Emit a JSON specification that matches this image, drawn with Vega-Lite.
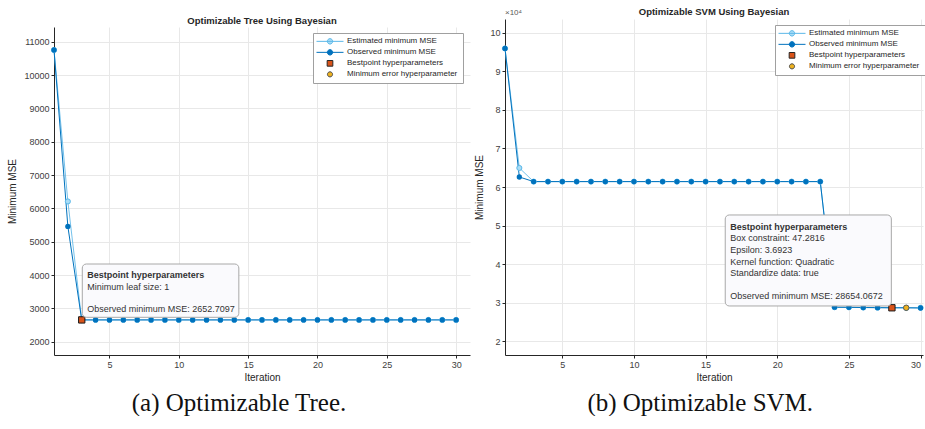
{
  "$schema": "https://vega.github.io/schema/vega-lite/v6.json",
  "padding": {"left": 7, "right": 0, "top": 4, "bottom": 0},
  "background": "white",
  "spacing": 4,
  "resolve": {"scale": {"fill": "independent", "stroke": "independent", "shape": "independent"}, "legend": {"fill": "independent", "stroke": "independent", "shape": "independent"}},
  "config": {
    "view": {"stroke": null},
    "font": "Liberation Sans",
    "axis": {
      "labelFont": "Liberation Sans", "labelFontSize": 9, "labelColor": "#404040",
      "titleFont": "Liberation Sans", "titleFontSize": 10, "titleFontWeight": "normal", "titleColor": "#262626",
      "domainColor": "#262626", "domainWidth": 1, "gridColor": "#e8e8e8", "tickColor": "#262626", "tickSize": 3, "labelPadding": 2
    },
    "title": {"font": "Liberation Sans", "fontSize": 9.5, "fontWeight": "bold", "color": "#262626", "offset": 4},
    "legend": {
      "title": null, "orient": "none", "symbolSize": 729, "symbolStrokeWidth": 1, "clipHeight": 10.7, "rowPadding": 0,
      "padding": 3, "labelOffset": 3, "labelFont": "Liberation Sans", "labelFontSize": 8, "labelColor": "#262626",
      "strokeColor": "#a0a0a0", "fillColor": "#ffffff", "symbolOpacity": 1
    }
  },
  "datasets": {
    "tree": [
      {"iter": 1, "mse": 10750, "series": "Estimated minimum MSE"},
      {"iter": 2, "mse": 6207, "series": "Estimated minimum MSE"},
      {"iter": 3, "mse": 2652.7097, "series": "Estimated minimum MSE"},
      {"iter": 4, "mse": 2652.7097, "series": "Estimated minimum MSE"},
      {"iter": 5, "mse": 2652.7097, "series": "Estimated minimum MSE"},
      {"iter": 6, "mse": 2652.7097, "series": "Estimated minimum MSE"},
      {"iter": 7, "mse": 2652.7097, "series": "Estimated minimum MSE"},
      {"iter": 8, "mse": 2652.7097, "series": "Estimated minimum MSE"},
      {"iter": 9, "mse": 2652.7097, "series": "Estimated minimum MSE"},
      {"iter": 10, "mse": 2652.7097, "series": "Estimated minimum MSE"},
      {"iter": 11, "mse": 2652.7097, "series": "Estimated minimum MSE"},
      {"iter": 12, "mse": 2652.7097, "series": "Estimated minimum MSE"},
      {"iter": 13, "mse": 2652.7097, "series": "Estimated minimum MSE"},
      {"iter": 14, "mse": 2652.7097, "series": "Estimated minimum MSE"},
      {"iter": 15, "mse": 2652.7097, "series": "Estimated minimum MSE"},
      {"iter": 16, "mse": 2652.7097, "series": "Estimated minimum MSE"},
      {"iter": 17, "mse": 2652.7097, "series": "Estimated minimum MSE"},
      {"iter": 18, "mse": 2652.7097, "series": "Estimated minimum MSE"},
      {"iter": 19, "mse": 2652.7097, "series": "Estimated minimum MSE"},
      {"iter": 20, "mse": 2652.7097, "series": "Estimated minimum MSE"},
      {"iter": 21, "mse": 2652.7097, "series": "Estimated minimum MSE"},
      {"iter": 22, "mse": 2652.7097, "series": "Estimated minimum MSE"},
      {"iter": 23, "mse": 2652.7097, "series": "Estimated minimum MSE"},
      {"iter": 24, "mse": 2652.7097, "series": "Estimated minimum MSE"},
      {"iter": 25, "mse": 2652.7097, "series": "Estimated minimum MSE"},
      {"iter": 26, "mse": 2652.7097, "series": "Estimated minimum MSE"},
      {"iter": 27, "mse": 2652.7097, "series": "Estimated minimum MSE"},
      {"iter": 28, "mse": 2652.7097, "series": "Estimated minimum MSE"},
      {"iter": 29, "mse": 2652.7097, "series": "Estimated minimum MSE"},
      {"iter": 30, "mse": 2652.7097, "series": "Estimated minimum MSE"},
      {"iter": 1, "mse": 10750, "series": "Observed minimum MSE"},
      {"iter": 2, "mse": 5456, "series": "Observed minimum MSE"},
      {"iter": 3, "mse": 2652.7097, "series": "Observed minimum MSE"},
      {"iter": 4, "mse": 2652.7097, "series": "Observed minimum MSE"},
      {"iter": 5, "mse": 2652.7097, "series": "Observed minimum MSE"},
      {"iter": 6, "mse": 2652.7097, "series": "Observed minimum MSE"},
      {"iter": 7, "mse": 2652.7097, "series": "Observed minimum MSE"},
      {"iter": 8, "mse": 2652.7097, "series": "Observed minimum MSE"},
      {"iter": 9, "mse": 2652.7097, "series": "Observed minimum MSE"},
      {"iter": 10, "mse": 2652.7097, "series": "Observed minimum MSE"},
      {"iter": 11, "mse": 2652.7097, "series": "Observed minimum MSE"},
      {"iter": 12, "mse": 2652.7097, "series": "Observed minimum MSE"},
      {"iter": 13, "mse": 2652.7097, "series": "Observed minimum MSE"},
      {"iter": 14, "mse": 2652.7097, "series": "Observed minimum MSE"},
      {"iter": 15, "mse": 2652.7097, "series": "Observed minimum MSE"},
      {"iter": 16, "mse": 2652.7097, "series": "Observed minimum MSE"},
      {"iter": 17, "mse": 2652.7097, "series": "Observed minimum MSE"},
      {"iter": 18, "mse": 2652.7097, "series": "Observed minimum MSE"},
      {"iter": 19, "mse": 2652.7097, "series": "Observed minimum MSE"},
      {"iter": 20, "mse": 2652.7097, "series": "Observed minimum MSE"},
      {"iter": 21, "mse": 2652.7097, "series": "Observed minimum MSE"},
      {"iter": 22, "mse": 2652.7097, "series": "Observed minimum MSE"},
      {"iter": 23, "mse": 2652.7097, "series": "Observed minimum MSE"},
      {"iter": 24, "mse": 2652.7097, "series": "Observed minimum MSE"},
      {"iter": 25, "mse": 2652.7097, "series": "Observed minimum MSE"},
      {"iter": 26, "mse": 2652.7097, "series": "Observed minimum MSE"},
      {"iter": 27, "mse": 2652.7097, "series": "Observed minimum MSE"},
      {"iter": 28, "mse": 2652.7097, "series": "Observed minimum MSE"},
      {"iter": 29, "mse": 2652.7097, "series": "Observed minimum MSE"},
      {"iter": 30, "mse": 2652.7097, "series": "Observed minimum MSE"},
      {"iter": 3, "mse": 2652.7097, "series": "Minimum error hyperparameters"},
      {"iter": 3, "mse": 2652.7097, "series": "Bestpoint hyperparameters"}
    ],
    "svm": [
      {"iter": 1, "mse": 95950, "series": "Estimated minimum MSE"},
      {"iter": 2, "mse": 64940, "series": "Estimated minimum MSE"},
      {"iter": 3, "mse": 61400, "series": "Estimated minimum MSE"},
      {"iter": 4, "mse": 61400, "series": "Estimated minimum MSE"},
      {"iter": 5, "mse": 61400, "series": "Estimated minimum MSE"},
      {"iter": 6, "mse": 61400, "series": "Estimated minimum MSE"},
      {"iter": 7, "mse": 61400, "series": "Estimated minimum MSE"},
      {"iter": 8, "mse": 61400, "series": "Estimated minimum MSE"},
      {"iter": 9, "mse": 61400, "series": "Estimated minimum MSE"},
      {"iter": 10, "mse": 61400, "series": "Estimated minimum MSE"},
      {"iter": 11, "mse": 61400, "series": "Estimated minimum MSE"},
      {"iter": 12, "mse": 61400, "series": "Estimated minimum MSE"},
      {"iter": 13, "mse": 61400, "series": "Estimated minimum MSE"},
      {"iter": 14, "mse": 61400, "series": "Estimated minimum MSE"},
      {"iter": 15, "mse": 61400, "series": "Estimated minimum MSE"},
      {"iter": 16, "mse": 61400, "series": "Estimated minimum MSE"},
      {"iter": 17, "mse": 61400, "series": "Estimated minimum MSE"},
      {"iter": 18, "mse": 61400, "series": "Estimated minimum MSE"},
      {"iter": 19, "mse": 61400, "series": "Estimated minimum MSE"},
      {"iter": 20, "mse": 61400, "series": "Estimated minimum MSE"},
      {"iter": 21, "mse": 61400, "series": "Estimated minimum MSE"},
      {"iter": 22, "mse": 61400, "series": "Estimated minimum MSE"},
      {"iter": 23, "mse": 61400, "series": "Estimated minimum MSE"},
      {"iter": 24, "mse": 28800, "series": "Estimated minimum MSE"},
      {"iter": 25, "mse": 28780, "series": "Estimated minimum MSE"},
      {"iter": 26, "mse": 28720, "series": "Estimated minimum MSE"},
      {"iter": 27, "mse": 28690, "series": "Estimated minimum MSE"},
      {"iter": 28, "mse": 28654.0672, "series": "Estimated minimum MSE"},
      {"iter": 29, "mse": 28654.0672, "series": "Estimated minimum MSE"},
      {"iter": 30, "mse": 28654.0672, "series": "Estimated minimum MSE"},
      {"iter": 1, "mse": 95950, "series": "Observed minimum MSE"},
      {"iter": 2, "mse": 62600, "series": "Observed minimum MSE"},
      {"iter": 3, "mse": 61400, "series": "Observed minimum MSE"},
      {"iter": 4, "mse": 61400, "series": "Observed minimum MSE"},
      {"iter": 5, "mse": 61400, "series": "Observed minimum MSE"},
      {"iter": 6, "mse": 61400, "series": "Observed minimum MSE"},
      {"iter": 7, "mse": 61400, "series": "Observed minimum MSE"},
      {"iter": 8, "mse": 61400, "series": "Observed minimum MSE"},
      {"iter": 9, "mse": 61400, "series": "Observed minimum MSE"},
      {"iter": 10, "mse": 61400, "series": "Observed minimum MSE"},
      {"iter": 11, "mse": 61400, "series": "Observed minimum MSE"},
      {"iter": 12, "mse": 61400, "series": "Observed minimum MSE"},
      {"iter": 13, "mse": 61400, "series": "Observed minimum MSE"},
      {"iter": 14, "mse": 61400, "series": "Observed minimum MSE"},
      {"iter": 15, "mse": 61400, "series": "Observed minimum MSE"},
      {"iter": 16, "mse": 61400, "series": "Observed minimum MSE"},
      {"iter": 17, "mse": 61400, "series": "Observed minimum MSE"},
      {"iter": 18, "mse": 61400, "series": "Observed minimum MSE"},
      {"iter": 19, "mse": 61400, "series": "Observed minimum MSE"},
      {"iter": 20, "mse": 61400, "series": "Observed minimum MSE"},
      {"iter": 21, "mse": 61400, "series": "Observed minimum MSE"},
      {"iter": 22, "mse": 61400, "series": "Observed minimum MSE"},
      {"iter": 23, "mse": 61400, "series": "Observed minimum MSE"},
      {"iter": 24, "mse": 28800, "series": "Observed minimum MSE"},
      {"iter": 25, "mse": 28780, "series": "Observed minimum MSE"},
      {"iter": 26, "mse": 28720, "series": "Observed minimum MSE"},
      {"iter": 27, "mse": 28690, "series": "Observed minimum MSE"},
      {"iter": 28, "mse": 28654.0672, "series": "Observed minimum MSE"},
      {"iter": 29, "mse": 28654.0672, "series": "Observed minimum MSE"},
      {"iter": 30, "mse": 28600, "series": "Observed minimum MSE"},
      {"iter": 29, "mse": 28654.0672, "series": "Minimum error hyperparameters"},
      {"iter": 28, "mse": 28654.0672, "series": "Bestpoint hyperparameters"}
    ]
  },
  "hconcat": [
    {
      "title": {"text": "(a) Optimizable Tree.", "orient": "bottom", "anchor": "middle", "frame": "bounds", "font": "Liberation Serif", "fontSize": 25, "fontWeight": "normal", "color": "#111111", "offset": 9},
      "spacing": 0,
      "vconcat": [
        {"width": 1, "height": 10, "data": {"values": [{"note": "spacer"}]}, "mark": {"type": "rule", "opacity": 0}, "encoding": {}},
        {
          "width": 416,
          "height": 328,
          "title": {"text": "Optimizable Tree Using Bayesian", "offset": 2, "frame": "group"},
          "data": {"name": "tree"},
          "encoding": {
            "x": {"field": "iter", "type": "quantitative", "scale": {"domain": [1, 31], "nice": false, "zero": false},
                  "axis": {"values": [5, 10, 15, 20, 25, 30], "title": "Iteration", "titlePadding": 3}},
            "y": {"field": "mse", "type": "quantitative", "scale": {"domain": [1600, 11440], "nice": false, "zero": false},
                  "axis": {"values": [2000, 3000, 4000, 5000, 6000, 7000, 8000, 9000, 10000, 11000], "format": "d", "title": "Minimum MSE", "titlePadding": 6}}
          },
          "layer": [
            {"transform": [{"filter": "datum.series === 'Estimated minimum MSE'"}],
             "mark": {"type": "line", "color": "#74c2ec", "strokeWidth": 1}},
            {"transform": [{"filter": "datum.series === 'Observed minimum MSE'"}],
             "mark": {"type": "line", "color": "#0072BD", "strokeWidth": 1}},
            {"transform": [{"filter": "datum.series === 'Estimated minimum MSE'"}],
             "mark": {"type": "point", "shape": "circle", "filled": true, "size": 26, "fill": "#a9dcf6", "stroke": "#5bb8e8", "strokeWidth": 1, "opacity": 1}},
            {"transform": [{"filter": "datum.series === 'Observed minimum MSE'"}],
             "mark": {"type": "point", "shape": "circle", "filled": true, "size": 28, "color": "#0072BD", "opacity": 1}},
            {"transform": [{"filter": "datum.series === 'Minimum error hyperparameters'"}],
             "mark": {"type": "point", "shape": "circle", "filled": true, "size": 30, "fill": "#EDB120", "stroke": "#4d4d4d", "strokeWidth": 0.8, "opacity": 1}},
            {"transform": [{"filter": "datum.series === 'Bestpoint hyperparameters'"}],
             "mark": {"type": "point", "shape": "square", "filled": true, "size": 40, "fill": "#D95319", "stroke": "#1a1a1a", "strokeWidth": 1, "opacity": 1}},
            {"mark": {"type": "point", "filled": true, "opacity": 0},
             "encoding": {
               "fill": {"field": "series", "type": "nominal",
                 "scale": {"domain": ["Estimated minimum MSE", "Observed minimum MSE", "Bestpoint hyperparameters", "Minimum error hyperparameters"],
                           "range": ["#a9dcf6", "#0072BD", "#D95319", "#EDB120"]},
                 "legend": {"legendX": 259, "legendY": 28, "labelLimit": 114,
                   "encode": {"symbols": {"update": {"opacity": {"value": 1}}}, "labels": {"update": {"ellipsis": {"value": " "}}}}}},
               "stroke": {"field": "series", "type": "nominal",
                 "scale": {"domain": ["Estimated minimum MSE", "Observed minimum MSE", "Bestpoint hyperparameters", "Minimum error hyperparameters"],
                           "range": ["#5bb8e8", "#0072BD", "#262626", "#4d4d4d"]},
                 "legend": {"legendX": 259, "legendY": 28, "labelLimit": 114,
                   "encode": {"symbols": {"update": {"opacity": {"value": 1}}}, "labels": {"update": {"ellipsis": {"value": " "}}}}}},
               "shape": {"field": "series", "type": "nominal",
                 "scale": {"domain": ["Estimated minimum MSE", "Observed minimum MSE", "Bestpoint hyperparameters", "Minimum error hyperparameters"],
                           "range": ["M-1,0L1,0M0.2,0A0.2,0.2,0,1,1,-0.2,0A0.2,0.2,0,1,1,0.2,0Z", "M-1,0L1,0M0.2,0A0.2,0.2,0,1,1,-0.2,0A0.2,0.2,0,1,1,0.2,0Z", "M-0.21,-0.21L0.21,-0.21L0.21,0.21L-0.21,0.21Z", "M0.19,0A0.19,0.19,0,1,1,-0.19,0A0.19,0.19,0,1,1,0.19,0Z"]},
                 "legend": {"legendX": 259, "legendY": 28, "labelLimit": 114,
                   "encode": {"symbols": {"update": {"opacity": {"value": 1}}}, "labels": {"update": {"ellipsis": {"value": " "}}}}}}
             }},
            {"transform": [{"filter": "datum.series === 'Bestpoint hyperparameters'"}],
             "mark": {"type": "rect", "fill": "#fafafd", "stroke": "#a8a8a8", "strokeWidth": 1, "cornerRadius": 4},
             "encoding": {"x": {"datum": 3.04, "type": "quantitative"}, "x2": {"datum": 14.33}, "y": {"datum": 4330, "type": "quantitative"}, "y2": {"datum": 2731}}},
            {"transform": [{"filter": "datum.series === 'Bestpoint hyperparameters'"}],
             "mark": {"type": "text", "align": "left", "baseline": "alphabetic", "font": "Liberation Sans", "fontSize": 9, "fontWeight": "bold", "color": "#333333"},
             "encoding": {"x": {"datum": 3.4, "type": "quantitative"}, "y": {"datum": 3925, "type": "quantitative"}, "text": {"value": "Bestpoint hyperparameters"}}},
            {"transform": [{"filter": "datum.series === 'Bestpoint hyperparameters'"}],
             "mark": {"type": "text", "align": "left", "baseline": "alphabetic", "font": "Liberation Sans", "fontSize": 9, "color": "#333333"},
             "encoding": {"x": {"datum": 3.4, "type": "quantitative"}, "y": {"datum": 3565, "type": "quantitative"}, "text": {"value": "Minimum leaf size: 1"}}},
            {"transform": [{"filter": "datum.series === 'Bestpoint hyperparameters'"}],
             "mark": {"type": "text", "align": "left", "baseline": "alphabetic", "font": "Liberation Sans", "fontSize": 9, "color": "#333333"},
             "encoding": {"x": {"datum": 3.4, "type": "quantitative"}, "y": {"datum": 2905, "type": "quantitative"}, "text": {"value": "Observed minimum MSE: 2652.7097"}}}
          ]
        }
      ]
    },
    {
      "title": {"text": "(b) Optimizable SVM.", "orient": "bottom", "anchor": "middle", "frame": "bounds", "font": "Liberation Serif", "fontSize": 25, "fontWeight": "normal", "color": "#111111", "offset": 9},
      "spacing": 0,
      "vconcat": [
        {"width": 1, "height": 1, "data": {"values": [{"note": "spacer"}]}, "mark": {"type": "rule", "opacity": 0}, "encoding": {}},
        {
          "width": 418,
          "height": 336,
          "title": {"text": "Optimizable SVM Using Bayesian", "offset": -7, "frame": "group"},
          "data": {"name": "svm"},
          "encoding": {
            "x": {"field": "iter", "type": "quantitative", "scale": {"domain": [1, 30.17], "nice": false, "zero": false},
                  "axis": {"values": [5, 10, 15, 20, 25, 30], "title": "Iteration", "titlePadding": 3, "labelFlush": 4}},
            "y": {"field": "mse", "type": "quantitative", "scale": {"domain": [16400, 103600], "nice": false, "zero": false},
                  "axis": {"values": [20000, 30000, 40000, 50000, 60000, 70000, 80000, 90000, 100000], "labelExpr": "datum.value / 10000", "title": "Minimum MSE", "titlePadding": 5}}
          },
          "layer": [
            {"transform": [{"filter": "datum.series === 'Estimated minimum MSE'"}],
             "mark": {"type": "line", "color": "#74c2ec", "strokeWidth": 1}},
            {"transform": [{"filter": "datum.series === 'Observed minimum MSE'"}],
             "mark": {"type": "line", "color": "#0072BD", "strokeWidth": 1}},
            {"transform": [{"filter": "datum.series === 'Estimated minimum MSE'"}],
             "mark": {"type": "point", "shape": "circle", "filled": true, "size": 26, "fill": "#a9dcf6", "stroke": "#5bb8e8", "strokeWidth": 1, "opacity": 1}},
            {"transform": [{"filter": "datum.series === 'Observed minimum MSE'"}],
             "mark": {"type": "point", "shape": "circle", "filled": true, "size": 28, "color": "#0072BD", "opacity": 1}},
            {"transform": [{"filter": "datum.series === 'Minimum error hyperparameters'"}],
             "mark": {"type": "point", "shape": "circle", "filled": true, "size": 30, "fill": "#EDB120", "stroke": "#4d4d4d", "strokeWidth": 0.8, "opacity": 1}},
            {"transform": [{"filter": "datum.series === 'Bestpoint hyperparameters'"}],
             "mark": {"type": "point", "shape": "square", "filled": true, "size": 40, "fill": "#D95319", "stroke": "#1a1a1a", "strokeWidth": 1, "opacity": 1}},
            {"mark": {"type": "point", "filled": true, "opacity": 0},
             "encoding": {
               "fill": {"field": "series", "type": "nominal",
                 "scale": {"domain": ["Estimated minimum MSE", "Observed minimum MSE", "Bestpoint hyperparameters", "Minimum error hyperparameters"],
                           "range": ["#a9dcf6", "#0072BD", "#D95319", "#EDB120"]},
                 "legend": {"legendX": 270, "legendY": 20, "labelLimit": 114,
                   "encode": {"symbols": {"update": {"opacity": {"value": 1}}}, "labels": {"update": {"ellipsis": {"value": " "}}}}}},
               "stroke": {"field": "series", "type": "nominal",
                 "scale": {"domain": ["Estimated minimum MSE", "Observed minimum MSE", "Bestpoint hyperparameters", "Minimum error hyperparameters"],
                           "range": ["#5bb8e8", "#0072BD", "#262626", "#4d4d4d"]},
                 "legend": {"legendX": 270, "legendY": 20, "labelLimit": 114,
                   "encode": {"symbols": {"update": {"opacity": {"value": 1}}}, "labels": {"update": {"ellipsis": {"value": " "}}}}}},
               "shape": {"field": "series", "type": "nominal",
                 "scale": {"domain": ["Estimated minimum MSE", "Observed minimum MSE", "Bestpoint hyperparameters", "Minimum error hyperparameters"],
                           "range": ["M-1,0L1,0M0.2,0A0.2,0.2,0,1,1,-0.2,0A0.2,0.2,0,1,1,0.2,0Z", "M-1,0L1,0M0.2,0A0.2,0.2,0,1,1,-0.2,0A0.2,0.2,0,1,1,0.2,0Z", "M-0.21,-0.21L0.21,-0.21L0.21,0.21L-0.21,0.21Z", "M0.19,0A0.19,0.19,0,1,1,-0.19,0A0.19,0.19,0,1,1,0.19,0Z"]},
                 "legend": {"legendX": 270, "legendY": 20, "labelLimit": 114,
                   "encode": {"symbols": {"update": {"opacity": {"value": 1}}}, "labels": {"update": {"ellipsis": {"value": " "}}}}}}
             }},
            {"transform": [{"filter": "datum.series === 'Bestpoint hyperparameters'"}],
             "mark": {"type": "text", "align": "left", "baseline": "middle", "dy": -6, "font": "Liberation Sans", "fontSize": 8, "color": "#595959"},
             "encoding": {"x": {"datum": 1, "type": "quantitative"}, "y": {"datum": 103600, "type": "quantitative"}, "text": {"value": "×10⁴"}}},
            {"transform": [{"filter": "datum.series === 'Bestpoint hyperparameters'"}],
             "mark": {"type": "rect", "fill": "#fafafd", "stroke": "#a8a8a8", "strokeWidth": 1, "cornerRadius": 4},
             "encoding": {"x": {"datum": 16.37, "type": "quantitative"}, "x2": {"datum": 27.96}, "y": {"datum": 52738, "type": "quantitative"}, "y2": {"datum": 29123}}},
            {"transform": [{"filter": "datum.series === 'Bestpoint hyperparameters'"}],
             "mark": {"type": "text", "align": "left", "baseline": "alphabetic", "font": "Liberation Sans", "fontSize": 9, "fontWeight": "bold", "color": "#333333"},
             "encoding": {"x": {"datum": 16.72, "type": "quantitative"}, "y": {"datum": 48716, "type": "quantitative"}, "text": {"value": "Bestpoint hyperparameters"}}},
            {"transform": [{"filter": "datum.series === 'Bestpoint hyperparameters'"}],
             "mark": {"type": "text", "align": "left", "baseline": "alphabetic", "font": "Liberation Sans", "fontSize": 9, "lineHeight": 11.6, "color": "#333333"},
             "encoding": {"x": {"datum": 16.72, "type": "quantitative"}, "y": {"datum": 45861, "type": "quantitative"}, "text": {"value": ["Box constraint: 47.2816", "Epsilon: 3.6923", "Kernel function: Quadratic", "Standardize data: true"]}}},
            {"transform": [{"filter": "datum.series === 'Bestpoint hyperparameters'"}],
             "mark": {"type": "text", "align": "left", "baseline": "alphabetic", "font": "Liberation Sans", "fontSize": 9, "color": "#333333"},
             "encoding": {"x": {"datum": 16.72, "type": "quantitative"}, "y": {"datum": 30810, "type": "quantitative"}, "text": {"value": "Observed minimum MSE: 28654.0672"}}}
          ]
        }
      ]
    }
  ]
}
